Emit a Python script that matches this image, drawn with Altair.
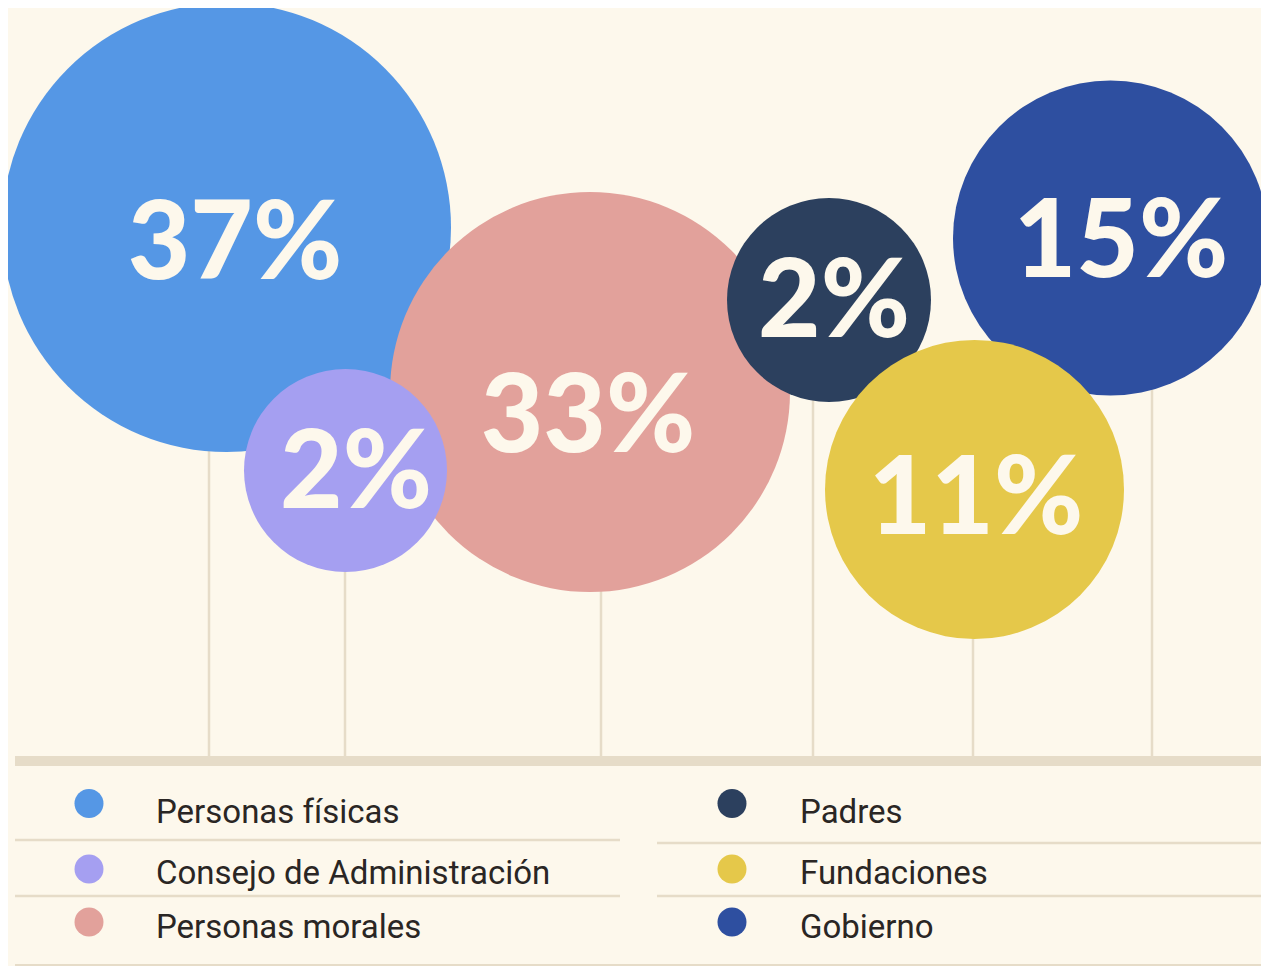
import math
import altair as alt
import pandas as pd

# ---- data ----
categories = ["Personas físicas", "Consejo de Administración", "Personas morales",
              "Padres", "Fundaciones", "Gobierno"]
shares = [37, 2, 33, 2, 11, 15]
bubble_x = [226.5, 345.5, 590, 829, 974.5, 1110.5]
bubble_y = [227.5, 470.5, 392, 300, 489.5, 238]
bubble_r = [224.5, 101.5, 200, 102, 149.5, 157.5]
label_x = [235, 356, 588, 834, 976, 1121]
label_y = [240, 469, 413, 298, 495, 238]
stem_x = [209, 345, 601, 813, 973, 1152]
draw_order = [0, 2, 1, 4, 5, 3]

# ---- styles ----
colors = ["#5597e5", "#a59ff1", "#e2a19b", "#2c405e", "#e5c84a", "#2e4fa0"]
BG = "#fdf8ec"
LINE = "#e6dcc8"
W, H = 1253, 958
BASE_Y = 761

color_scale = alt.Scale(domain=categories, range=colors)
xs = alt.Scale(domain=[8, 8 + W])
ys = alt.Scale(domain=[8, 8 + H], reverse=True)

def X(f, **kw):
    return alt.X(f, scale=xs, axis=None, **kw)

def Y(f, **kw):
    return alt.Y(f, scale=ys, axis=None, **kw)

bub = pd.DataFrame({
    "cat": categories, "share": shares, "x": bubble_x, "y": bubble_y, "r": bubble_r,
    "lx": label_x, "ly": label_y, "sx": stem_x, "ord": draw_order,
})
bub["label"] = bub["share"].astype(str) + "%"
# Vega circle symbols: diameter = sqrt(size)
bub["area"] = (2 * bub["r"]) ** 2
bub["base"] = BASE_Y
bub = bub.sort_values("ord")

stems = alt.Chart(bub).mark_rule(color=LINE, strokeWidth=2.5).encode(
    x=X("sx:Q"), y=Y("y:Q"), y2="base:Q"
)

circles = alt.Chart(bub).mark_circle(opacity=1, strokeWidth=0).encode(
    x=X("x:Q"), y=Y("y:Q"),
    size=alt.Size("area:Q", scale=None, legend=None),
    color=alt.Color("cat:N", scale=color_scale, legend=None),
    order=alt.Order("ord:Q"),
)

labels = alt.Chart(bub).mark_text(
    font="Lato", fontWeight=900, fontSize=108, color=BG,
    align="center", baseline="middle", dy=7
).encode(x=X("lx:Q"), y=Y("ly:Q"), text="label:N")

# ---- bands & separators ----
rules_df = pd.DataFrame({
    "x1": [15, 15, 15, 15, 657, 657],
    "x2": [1262, 1262, 620, 620, 1262, 1262],
    "y1": [761, 969, 840, 896, 843, 896],
    "w": [10, 10, 2.5, 2.5, 2.5, 2.5],
})
rules = alt.Chart(rules_df).mark_rule(color=LINE).encode(
    x=X("x1:Q"), x2="x2:Q", y=Y("y1:Q"),
    strokeWidth=alt.StrokeWidth("w:Q", scale=None, legend=None),
)

# ---- legend ----
col_dot_x = [89, 732]
col_txt_x = [156, 800]
row_dot_y = [803.5, 869, 922]
row_txt_y = [823, 884, 938]
leg = pd.DataFrame({
    "cat": categories,
    "dx": [col_dot_x[i // 3] for i in range(6)],
    "tx": [col_txt_x[i // 3] for i in range(6)],
    "dy": [row_dot_y[i % 3] for i in range(6)],
    "ty": [row_txt_y[i % 3] for i in range(6)],
})
leg_dots = alt.Chart(leg).mark_circle(opacity=1, size=29 ** 2).encode(
    x=X("dx:Q"), y=Y("dy:Q"),
    color=alt.Color("cat:N", scale=color_scale, legend=None),
)
leg_text = alt.Chart(leg).mark_text(
    font="Roboto", fontSize=33, color="#2a2624", align="left", baseline="alphabetic"
).encode(x=X("tx:Q"), y=Y("ty:Q"), text="cat:N")

chart = alt.layer(stems, rules, circles, labels, leg_dots, leg_text).properties(
    width=W, height=H, background=BG, padding=0,
    autosize=alt.AutoSizeParams(type="none"),
).configure_view(stroke=None)

chart.save("out.html", embed_options={"renderer": "svg", "actions": False})
